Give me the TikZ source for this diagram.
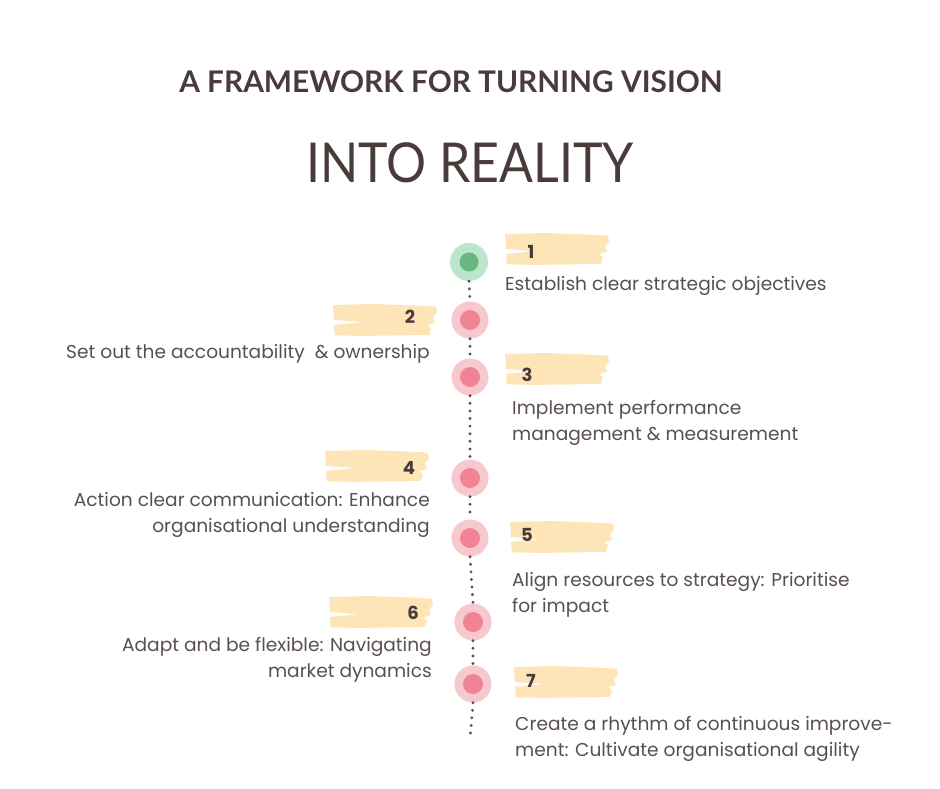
\documentclass[tikz,border=0pt]{standalone}
\usepackage{fontspec}
\setmainfont{Poppins}
\newfontfamily\titlefont{Lato}
\definecolor{ink}{HTML}{4A3B3B}
\definecolor{body}{HTML}{5A5050}
\definecolor{brush}{HTML}{FDE5B8}
\definecolor{gout}{HTML}{BDE5CB}
\definecolor{gin}{HTML}{6BB582}
\definecolor{pout}{HTML}{F7C9CF}
\definecolor{pin}{HTML}{F08395}
\tikzset{
  outerg/.style={circle,fill=gout,minimum size=38pt,inner sep=0pt},
  outerp/.style={circle,fill=pout,minimum size=37pt,inner sep=0pt},
  innerg/.style={circle,fill=gin,minimum size=19pt,inner sep=0pt},
  innerp/.style={circle,fill=pin,minimum size=20pt,inner sep=0pt},
  num/.style={font=\fontsize{18}{20}\selectfont\bfseries,text=ink,inner sep=0pt},
  lbl/.style={font=\fontsize{18.6}{26}\selectfont,text=body,inner sep=0pt},
  dots/.style={draw=ink!90,line width=3.2pt,line cap=round,dash pattern=on 0pt off 7.6pt},
}
\newcommand\brushshape[2]{%
  \fill[brush,shift={(#1,#2)},yscale=1.1] (0,1) -- (40,0) -- (85,1.5) -- (103,2.5) -- (104,8) -- (100,12)
   -- (102,17) -- (94,19.5) -- (98,22) -- (96,28) -- (70,28.5) -- (30,29) -- (2,28.5)
   -- (1,19) -- (30,16.5) -- (1,14.5) -- cycle;}
\begin{document}
\begin{tikzpicture}[x=1pt,y=-1pt]
\useasboundingbox[fill=white] (0,0) rectangle (940,788);
\node[font=\titlefont\fontsize{29.8}{32}\selectfont\bfseries,text=ink] (t1) at (451,82) {A FRAMEWORK FOR TURNING VISION};
\node[font=\titlefont\fontsize{55}{60}\selectfont,text=ink] (t2) at (470,163) {\scalebox{0.91}[1]{INTO REALITY}};
% brushes
\brushshape{505}{233}
\brushshape{333}{304}
\brushshape{505}{353}
\brushshape{325}{450}
\brushshape{510}{521}
\brushshape{329}{596}
\brushshape{514}{666}
% circles
\node[outerg] (c1) at (469,262) {};
\node[outerp] (c2) at (470,320) {};
\node[outerp] (c3) at (470,377) {};
\node[outerp] (c4) at (470,478) {};
\node[outerp] (c5) at (470,538) {};
\node[outerp] (c6) at (473,622) {};
\node[outerp] (c7) at (473,684) {};
\coordinate (end) at (470,740);
\draw[dots] (c1.south) -- (c2.north);
\draw[dots] (c2.south) -- (c3.north);
\draw[dots] (c3.south) -- (c4.north);
\draw[dots] (c4.south) -- (c5.north);
\draw[dots] (c5.south) -- (c6.north);
\draw[dots] (c6.south) -- (c7.north);
\draw[dots] (c7.south) -- (end);
\node[innerg] (i1) at (c1) {};
\foreach \k in {2,...,7} {\node[innerp] (i\k) at (c\k) {};}
% numbers
\node[num] (n1) at (531,252) {1};
\node[num] (n2) at (410,317) {2};
\node[num] (n3) at (527,375) {3};
\node[num] (n4) at (409,468) {4};
\node[num] (n5) at (527,535) {5};
\node[num] (n6) at (413,613) {6};
\node[num] (n7) at (531,681) {7};
% labels
\node[lbl,anchor=base west] (l1) at (505,290) {Establish clear strategic objectives};
\node[lbl,anchor=base east] (l2) at (430,358) {Set out the accountability\ \ \& ownership};
\node[lbl,anchor=north west,align=left] (l3) at (512,400) {Implement performance\\management \& measurement};
\node[lbl,anchor=north east,align=right] (l4) at (430,492) {Action clear communication: Enhance\\organisational understanding};
\node[lbl,anchor=north west,align=left] (l5) at (512,572) {Align resources to strategy: Prioritise\\for impact};
\node[lbl,anchor=north east,align=right] (l6) at (432,637) {Adapt and be flexible: Navigating\\market dynamics};
\node[lbl,anchor=north west,align=left] (l7) at (515,716) {Create a rhythm of continuous improve-\\ment: Cultivate organisational agility};
\end{tikzpicture}
\end{document}
